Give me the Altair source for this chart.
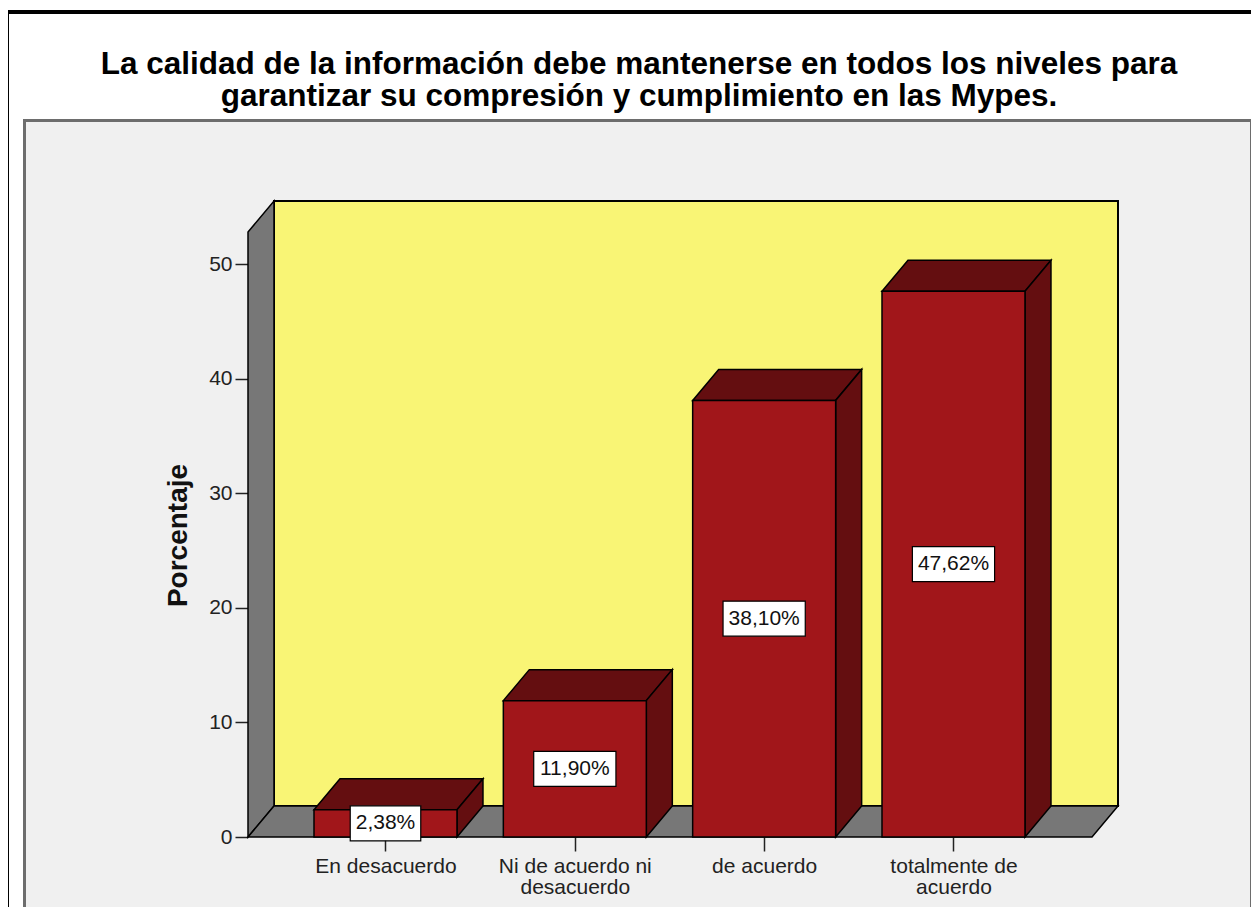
import altair as alt
import pandas as pd

# ---------------- data ----------------
title_lines = [
    "La calidad de la información debe mantenerse en todos los niveles para",
    "garantizar su compresión y cumplimiento en las Mypes.",
]
categories = ["En desacuerdo", "Ni de acuerdo ni|desacuerdo", "de acuerdo", "totalmente de|acuerdo"]
values = [2.38, 11.90, 38.10, 47.62]
y_ticks = [0, 10, 20, 30, 40, 50]
y_title = "Porcentaje"

# ---------------- styling / geometry (data units of the scales) ----------------
FONT = "Liberation Sans"
W, H = 870, 636
Y_MAX = 55.5
X_MIN, X_MAX = -0.7262, 3.8689
DX, DY = 0.1373, 2.705          # 3-D depth offset
HALF = 0.3776                   # half bar width
PX_X = W / (X_MAX - X_MIN)
PX_Y = H / Y_MAX

C_PANEL = "#f0f0f0"
C_WALL = "#f9f575"
C_SIDE = "#777777"
C_FRONT = "#a1161a"
C_DARK = "#640e10"

xs = alt.Scale(domain=[X_MIN, X_MAX], nice=False, zero=False)
ys = alt.Scale(domain=[0, Y_MAX], nice=False, zero=False)

label_expr = " : ".join(
    f"datum.value == {i} ? split('{c}', '|')" for i, c in enumerate(categories)
) + " : ''"

x_axis = alt.Axis(
    values=list(range(len(categories))),
    labelExpr=label_expr,
    title=None, domain=False, grid=False, tickSize=14, tickWidth=1.5, tickColor="#222222",
    labelFontSize=21, labelLineHeight=21, labelPadding=4, labelColor="#222222",
    labelOverlap=False, labelFlush=False, labelBaseline="top", labelFont=FONT,
)
y_axis = alt.Axis(
    values=y_ticks, title=y_title, domain=False, grid=False, tickSize=13, tickWidth=1.5,
    tickColor="#222222", labelFontSize=21, labelPadding=3, labelColor="#222222",
    labelFlush=False, labelFont=FONT,
    titleFont=FONT, titleFontSize=28, titleFontWeight="bold", titleColor="#111111",
    titleAngle=270, titleX=-70, titleY=334, titleAlign="center", titleBaseline="middle",
)


# every layer carries the same axis definition so that they merge into one axis
def X(field):
    return alt.X(field, type="quantitative", scale=xs, axis=x_axis)


def Y(field):
    return alt.Y(field, type="quantitative", scale=ys, axis=y_axis)


# ---------------- derived tables ----------------
bars = pd.DataFrame({"cat": list(range(len(values))), "value": values})
bars["x0"] = bars["cat"] - HALF
bars["x1"] = bars["cat"] + HALF
bars["zero"] = 0.0
bars["mid"] = bars["value"] / 2
bars["label"] = [f"{v:.2f}".replace(".", ",") + "%" for v in values]

char_em = {",": 0.278, "%": 0.889}
box_px = [21 * sum(char_em.get(ch, 0.556) for ch in s) + 11 for s in bars["label"]]
bars["bx0"] = bars["cat"] - [b / 2 / PX_X for b in box_px]
bars["bx1"] = bars["cat"] + [b / 2 / PX_X for b in box_px]
bars["by0"] = bars["mid"] - 17.5 / PX_Y
bars["by1"] = bars["mid"] + 17.5 / PX_Y

tops, sides = [], []
for i, v in enumerate(values):
    for x, lo, hi in [(i - HALF, v, v), (i - HALF + DX, v, v + DY),
                      (i + HALF, v, v + DY), (i + HALF + DX, v + DY, v + DY)]:
        tops.append({"id": i, "x": x, "lo": lo, "hi": hi})
    for x, lo, hi in [(i + HALF, 0, v), (i + HALF + DX, DY, v + DY)]:
        sides.append({"id": i, "x": x, "lo": lo, "hi": hi})
tops = pd.DataFrame(tops)
sides = pd.DataFrame(sides)

floor = pd.DataFrame({"id": 0, "x": [X_MIN, X_MIN + DX, X_MAX - DX, X_MAX],
                      "lo": [0, 0, 0, DY], "hi": [0, DY, DY, DY]})
lwall = pd.DataFrame({"id": 0, "x": [X_MIN, X_MIN + DX], "lo": [0, DY], "hi": [Y_MAX - DY, Y_MAX]})
bwall = pd.DataFrame({"x0": [X_MIN + DX], "x1": [X_MAX], "y0": [DY], "y1": [Y_MAX]})
one = pd.DataFrame({"k": [0]})

# ---------------- decoration layers (page white around the grey panel) ----------------
white_top = alt.Chart(one).mark_rect(fill="white").encode(
    x=alt.value(-245), x2=alt.value(1010), y=alt.value(-200), y2=alt.value(-82))
white_left = alt.Chart(one).mark_rect(fill="white").encode(
    x=alt.value(-245), x2=alt.value(-225), y=alt.value(-200), y2=alt.value(760))
frame = alt.Chart(one).mark_rect(fillOpacity=0, stroke="black", strokeWidth=4).encode(
    x=alt.value(-241), x2=alt.value(1060), y=alt.value(-189), y2=alt.value(760))
panel = alt.Chart(one).mark_rect(fillOpacity=0, stroke="#6d6d6d", strokeWidth=3).encode(
    x=alt.value(-223.5), x2=alt.value(1003.5), y=alt.value(-80.5), y2=alt.value(760))
title = alt.Chart(one).mark_text(
    text=title_lines, font=FONT, fontSize=31.5, fontWeight="bold", align="center",
    baseline="alphabetic", lineHeight=32, color="black").encode(
    x=alt.value(391), y=alt.value(-127))

back = alt.Chart(bwall).mark_rect(fill=C_WALL, stroke="black", strokeWidth=2).encode(
    x=X("x0"), x2="x1", y=Y("y0"), y2="y1")


def area(df, fill):
    return alt.Chart(df).mark_area(fill=fill, stroke="black", strokeWidth=1.5, orient="vertical",
                                   strokeJoin="miter").encode(
        x=X("x"), y=Y("lo"), y2="hi", detail="id:N")


left_wall = area(lwall, C_SIDE)
floor_l = area(floor, C_SIDE)
top_l = area(tops, C_DARK)
side_l = area(sides, C_DARK)

front = alt.Chart(bars).mark_rect(fill=C_FRONT, stroke="black", strokeWidth=1.5).encode(
    x=X("x0"), x2="x1", y=Y("zero"), y2="value")

boxes = alt.Chart(bars).mark_rect(fill="white", stroke="black", strokeWidth=1.2).encode(
    x=X("bx0"), x2="bx1", y=Y("by0"), y2="by1")
texts = alt.Chart(bars).mark_text(font=FONT, fontSize=21, color="#111111", align="center",
                                   baseline="middle").encode(
    x=X("cat"), y=Y("mid"), text="label:N")

chart = alt.layer(
    white_top, white_left, frame, panel, title, back, left_wall, floor_l, top_l, side_l,
    front, boxes, texts
).properties(
    width=W, height=H,
    autosize=alt.AutoSizeParams(type="none"),
    padding={"left": 240, "top": 193, "right": 133, "bottom": 70},
    background=C_PANEL,
).configure_view(strokeWidth=0)

chart.save("out.html", embed_options={"renderer": "svg", "actions": False})
